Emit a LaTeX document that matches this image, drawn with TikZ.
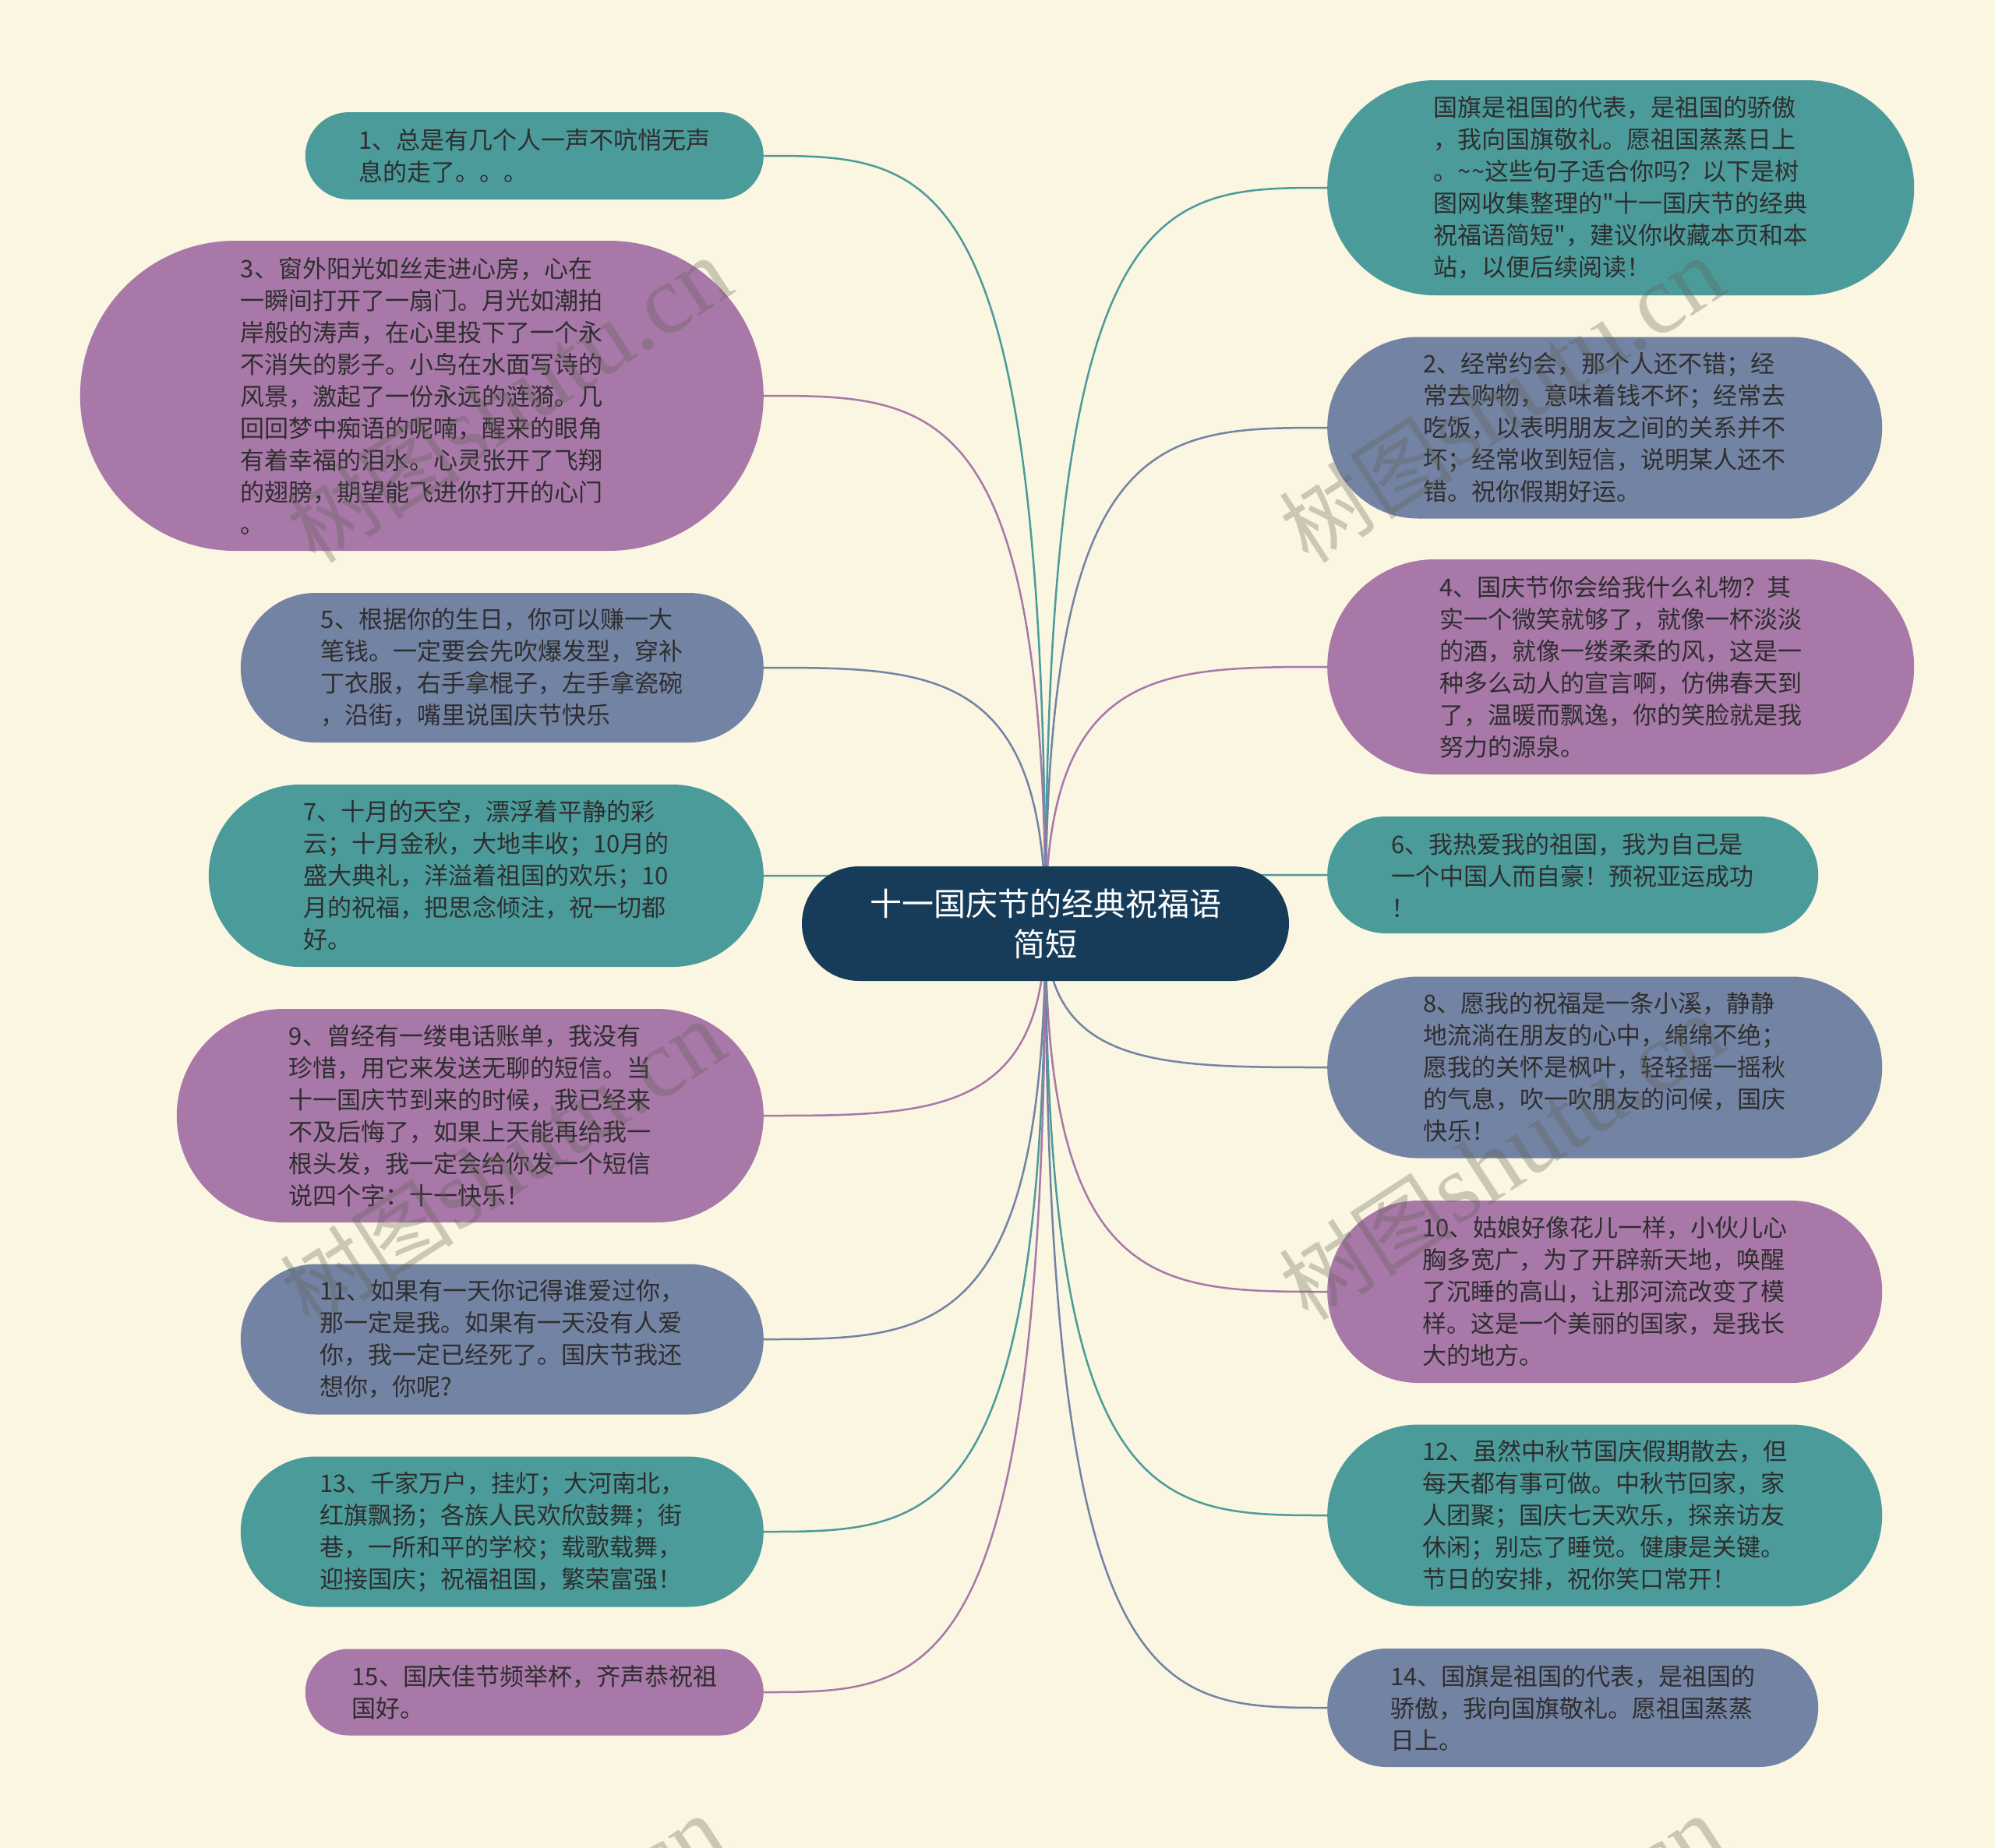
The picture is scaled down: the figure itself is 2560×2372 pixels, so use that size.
\documentclass[tikz,border=0pt]{standalone}
\usepackage{fontspec}
\newfontfamily\cjk{Noto Sans CJK SC}[Ligatures=TeXOff]
\newfontfamily\wmserif{Liberation Serif}
\usetikzlibrary{shapes.misc,calc}
\definecolor{bgc}{HTML}{FAF6E2}
\definecolor{cteal}{HTML}{4C9B9B}
\definecolor{cpurp}{HTML}{A878A8}
\definecolor{cblue}{HTML}{7383A3}
\definecolor{cnavy}{HTML}{163C5A}
\definecolor{ctext}{HTML}{2E2E2E}
\definecolor{wmc}{HTML}{5E5E50}
\pgfdeclarelayer{back}
\pgfdeclarelayer{lines}
\pgfsetlayers{back,lines,main}
\newcommand\linkL[2]{\draw[conn,#1] (c.center) .. controls (c.center |- #2.east) and ($(c.center |- #2.east)!0.4!(#2.east)$) .. (#2.east);}
\newcommand\linkR[2]{\draw[conn,#1] (c.center) .. controls (c.center |- #2.west) and ($(c.center |- #2.west)!0.4!(#2.west)$) .. (#2.west);}
\begin{document}
\begin{tikzpicture}[x=1pt,y=-1pt,
  pill/.style={rounded rectangle, inner sep=0pt, align=left, text=ctext,
    font=\cjk\fontsize{31}{41}\selectfont},
  lft/.style={pill, anchor=east},
  rgt/.style={pill, anchor=west},
  conn/.style={line width=2.5pt},
  wm/.style={text=wmc, text opacity=0.3, rotate=33, inner sep=0pt}]
\begin{pgfonlayer}{back}
\fill[bgc] (0,0) rectangle (2560,2372);
\end{pgfonlayer}
\useasboundingbox (0,0) rectangle (2560,2372);

% centre
\node[rounded rectangle, fill=cnavy, text=white, align=center, inner sep=0pt,
  minimum width=625pt, minimum height=147pt,
  font=\cjk\fontsize{41}{52}\selectfont] (c) at (1341.5,1185.5)
  {十一国庆节的经典祝福语\\简短};

% left column
\node[lft, fill=cteal, minimum width=588pt, minimum height=112pt] (n1) at (980,200)
  {1、总是有几个人一声不吭悄无声\\息的走了。。。};
\node[lft, fill=cpurp, minimum width=877pt, minimum height=398pt] (n3) at (980,508)
  {3、窗外阳光如丝走进心房，心在\\一瞬间打开了一扇门。月光如潮拍\\岸般的涛声，在心里投下了一个永\\不消失的影子。小鸟在水面写诗的\\风景，激起了一份永远的涟漪。几\\回回梦中痴语的呢喃，醒来的眼角\\有着幸福的泪水。心灵张开了飞翔\\的翅膀，期望能飞进你打开的心门\\。};
\node[lft, fill=cblue, minimum width=671pt, minimum height=192pt] (n5) at (980,857)
  {5、根据你的生日，你可以赚一大\\笔钱。一定要会先吹爆发型，穿补\\丁衣服，右手拿棍子，左手拿瓷碗\\，沿街，嘴里说国庆节快乐};
\node[lft, fill=cteal, minimum width=712pt, minimum height=234pt] (n7) at (980,1124)
  {7、十月的天空，漂浮着平静的彩\\云；十月金秋，大地丰收；10月的\\盛大典礼，洋溢着祖国的欢乐；10\\月的祝福，把思念倾注，祝一切都\\好。};
\node[lft, fill=cpurp, minimum width=753pt, minimum height=274pt] (n9) at (980,1432)
  {9、曾经有一缕电话账单，我没有\\珍惜，用它来发送无聊的短信。当\\十一国庆节到来的时候，我已经来\\不及后悔了，如果上天能再给我一\\根头发，我一定会给你发一个短信\\说四个字：十一快乐！};
\node[lft, fill=cblue, minimum width=671pt, minimum height=193pt] (n11) at (980,1719)
  {11、如果有一天你记得谁爱过你，\\那一定是我。如果有一天没有人爱\\你，我一定已经死了。国庆节我还\\想你，你呢?};
\node[lft, fill=cteal, minimum width=671pt, minimum height=193pt] (n13) at (980,1966)
  {13、千家万户，挂灯；大河南北，\\红旗飘扬；各族人民欢欣鼓舞；街\\巷，一所和平的学校；载歌载舞，\\迎接国庆；祝福祖国，繁荣富强！};
\node[lft, fill=cpurp, minimum width=588pt, minimum height=111pt] (n15) at (980,2172)
  {15、国庆佳节频举杯，齐声恭祝祖\\国好。};

% right column
\node[rgt, fill=cteal, minimum width=753pt, minimum height=276pt] (t0) at (1703,241)
  {国旗是祖国的代表，是祖国的骄傲\\，我向国旗敬礼。愿祖国蒸蒸日上\\。\textasciitilde\textasciitilde 这些句子适合你吗？以下是树\\图网收集整理的"十一国庆节的经典\\祝福语简短"，建议你收藏本页和本\\站，以便后续阅读！};
\node[rgt, fill=cblue, minimum width=712pt, minimum height=233pt] (n2) at (1703,549)
  {2、经常约会，那个人还不错；经\\常去购物，意味着钱不坏；经常去\\吃饭，以表明朋友之间的关系并不\\坏；经常收到短信，说明某人还不\\错。祝你假期好运。};
\node[rgt, fill=cpurp, minimum width=753pt, minimum height=276pt] (n4) at (1703,856)
  {4、国庆节你会给我什么礼物？其\\实一个微笑就够了，就像一杯淡淡\\的酒，就像一缕柔柔的风，这是一\\种多么动人的宣言啊，仿佛春天到\\了，温暖而飘逸，你的笑脸就是我\\努力的源泉。};
\node[rgt, fill=cteal, minimum width=630pt, minimum height=150pt] (n6) at (1703,1123)
  {6、我热爱我的祖国，我为自己是\\一个中国人而自豪！预祝亚运成功\\！};
\node[rgt, fill=cblue, minimum width=712pt, minimum height=233pt] (n8) at (1703,1370)
  {8、愿我的祝福是一条小溪，静静\\地流淌在朋友的心中，绵绵不绝；\\愿我的关怀是枫叶，轻轻摇一摇秋\\的气息，吹一吹朋友的问候，国庆\\快乐！};
\node[rgt, fill=cpurp, minimum width=712pt, minimum height=234pt] (n10) at (1703,1658)
  {10、姑娘好像花儿一样，小伙儿心\\胸多宽广，为了开辟新天地，唤醒\\了沉睡的高山，让那河流改变了模\\样。这是一个美丽的国家，是我长\\大的地方。};
\node[rgt, fill=cteal, minimum width=712pt, minimum height=233pt] (n12) at (1703,1945)
  {12、虽然中秋节国庆假期散去，但\\每天都有事可做。中秋节回家，家\\人团聚；国庆七天欢乐，探亲访友\\休闲；别忘了睡觉。健康是关键。\\节日的安排，祝你笑口常开！};
\node[rgt, fill=cblue, minimum width=630pt, minimum height=152pt] (n14) at (1703,2192)
  {14、国旗是祖国的代表，是祖国的\\骄傲，我向国旗敬礼。愿祖国蒸蒸\\日上。};

% connectors
\begin{pgfonlayer}{lines}
\linkL{cteal}{n1}
\linkL{cpurp}{n3}
\linkL{cblue}{n5}
\linkL{cteal}{n7}
\linkL{cpurp}{n9}
\linkL{cblue}{n11}
\linkL{cteal}{n13}
\linkL{cpurp}{n15}
\linkR{cteal}{t0}
\linkR{cblue}{n2}
\linkR{cpurp}{n4}
\linkR{cteal}{n6}
\linkR{cblue}{n8}
\linkR{cpurp}{n10}
\linkR{cteal}{n12}
\linkR{cblue}{n14}
\end{pgfonlayer}

% watermarks
\foreach \wx/\wy [count=\i] in {653/514, 1927/514, 645/1494, 1927/1486, 645/2514, 1927/2514} {
  \node[wm] (w\i) at (\wx,\wy) {{\cjk\fontsize{112}{112}\selectfont 树图}\,{\wmserif\fontsize{125}{125}\selectfont shutu.cn}};
}
\end{tikzpicture}
\end{document}
